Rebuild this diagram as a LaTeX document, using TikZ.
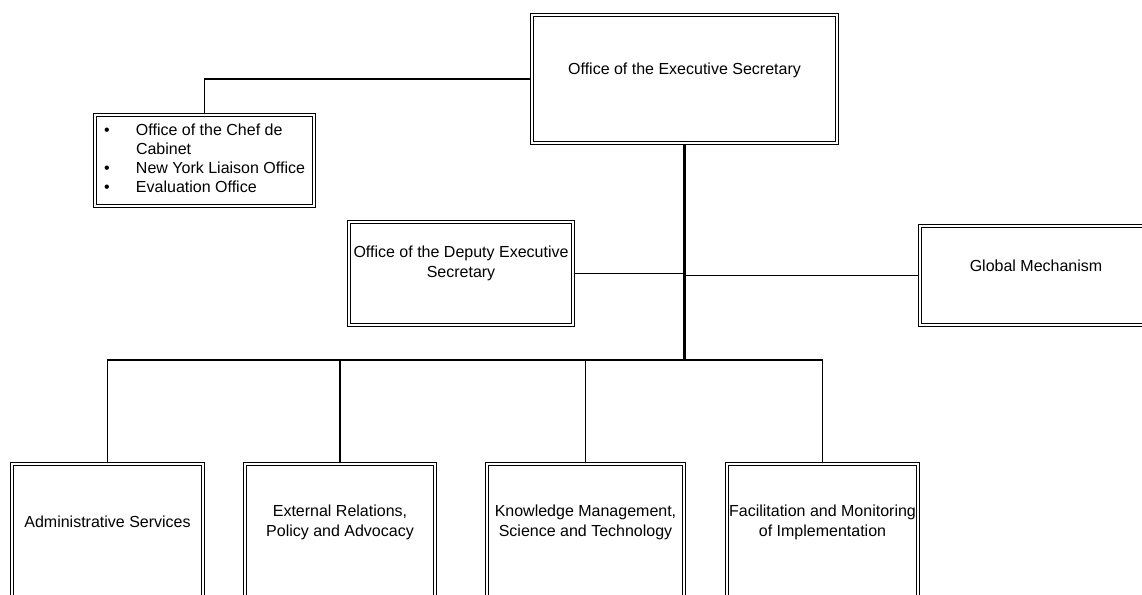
\documentclass[tikz,border=0pt]{standalone}
\usepackage{fontspec}
\setmainfont{Liberation Sans}
\usepackage{tikz}

\begin{document}
\begin{tikzpicture}[x=1pt, y=-1pt,
	orgbox/.style={draw, double, double distance=1.8pt, line width=1.1pt, inner sep=0pt},
	boxtext/.style={align=center, inner sep=0pt, font=\fontsize{16}{20}\selectfont},
	link/.style={line width=1.3pt},
	trunk/.style={line width=2.2pt}]

	\useasboundingbox (0,0) rectangle (1142,594);
	\clip (0,0) rectangle (1142,594);

	% top
	\node[orgbox, minimum width=305, minimum height=128] (exec) at (684.5,79) {};
	\node[boxtext] (exec-t) at ([yshift=9pt]exec.center) {Office of the Executive Secretary};

	\node[orgbox, minimum width=219, minimum height=91, font=\fontsize{16}{19}\selectfont] (chef) at (204.5,160.5) {%
		\begin{tabular}{@{}p{32pt}@{}l@{}}
		\textbullet & Office of the Chef de\\
		 & Cabinet\\
		\textbullet & New York Liaison Office\\
		\textbullet & Evaluation Office
		\end{tabular}};

	% middle
	\node[orgbox, minimum width=224, minimum height=103] (deputy) at (461,273.5) {};
	\node[boxtext] (deputy-t) at ([yshift=10pt]deputy.center) {Office of the Deputy Executive\\Secretary};

	\node[orgbox, minimum width=232, minimum height=99] (global) at (1036,275.5) {};
	\node[boxtext] (global-t) at ([yshift=10pt]global.center) {Global Mechanism};

	\coordinate (bus) at (exec.south |- 0,360);

	\draw[link] (chef.north) |- (exec.west);
	\draw[trunk] (exec.south) -- (bus);
	\draw[link] (deputy.east) -- (deputy.east -| bus);
	\draw[link] (global.west) -- (global.west -| bus);

	% bottom
	\foreach \name/\x/\w/\txt in {admin/107.5/191/{Administrative Services},
		extrel/340/190/{External Relations,\\Policy and Advocacy},
		knowman/585.5/197/{Knowledge Management,\\Science and Technology},
		facmon/822.5/191/{Facilitation and Monitoring\\of Implementation}}{
		\node[orgbox, minimum width=\w, minimum height=136] (\name) at (\x,532) {};
		\node[boxtext] (\name-t) at ([yshift=10pt]\name.center) {\txt};
		\draw[link] (\name.north) |- (bus);
	}
\end{tikzpicture}
\end{document}
